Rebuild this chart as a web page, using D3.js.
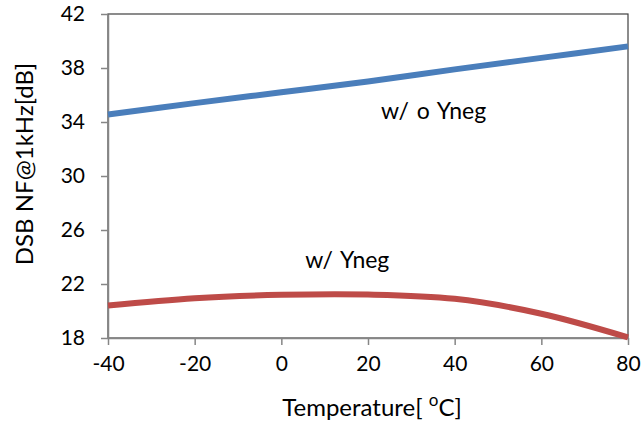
<!DOCTYPE html>
<html lang="en">
<head>
	<meta charset="utf-8">
	<title>DSB NF vs Temperature</title>
	<script src="https://cdn.jsdelivr.net/npm/d3@7"></script>
	<style>
	body { margin: 0; background: #fff; }
	text { font-family: Lato, "Open Sans", sans-serif; fill: #000; }
	.axis path, .axis line { stroke: #868686; stroke-width: 1.5px; }
	.axis text { font-size: 21px; }
	.frame { fill: none; stroke: #404040; stroke-width: 1.2px; }
	.line { fill: none; stroke-width: 6px; stroke-linecap: butt; }
	</style>
</head>
<body>
	<div id="chart"></div>
	<script>
		// values
		var temps = [-40, -20, 0, 20, 40, 60, 80];
		var withoutYneg = [34.55, 35.4, 36.2, 37.0, 37.9, 38.75, 39.6];
		var withYneg = [20.4, 20.95, 21.2, 21.22, 20.9, 19.8, 18.05];
		var xTicks = [-40, -20, 0, 20, 40, 60, 80];
		var yTicks = [18, 22, 26, 30, 34, 38, 42];

		var margin = {top: 14, right: 15, bottom: 90, left: 108},
		    width = 643 - margin.left - margin.right,
		    height = 428 - margin.top - margin.bottom;

		var svg = d3.select("#chart")
		    .append("svg")
		    .attr("width", 643)
		    .attr("height", 428);

		var x = d3.scaleLinear().domain([-40, 80]).range([0, width]),
		    y = d3.scaleLinear().domain([18, 42]).range([height, 0]);

		// plain hyphen for negatives, like the original
		var fmt = function(d) { return String(d); };

		var g = svg.append("g")
		    .attr("transform", "translate(" + margin.left + "," + margin.top + ")");

		g.append("rect")
		    .attr("class", "frame")
		    .attr("width", width)
		    .attr("height", height);

		g.append("g")
		    .attr("class", "axis axis--x")
		    .attr("transform", "translate(0," + height + ")")
		    .call(d3.axisBottom(x).tickValues(xTicks).tickFormat(fmt).tickSize(7).tickSizeOuter(0).tickPadding(8))
		    .call(function(s) { s.selectAll("text").attr("dy", "0.85em"); });

		g.append("g")
		    .attr("class", "axis axis--y")
		    .call(d3.axisLeft(y).tickValues(yTicks).tickFormat(fmt).tickSize(7).tickSizeOuter(0).tickPadding(16));

		var line = d3.line()
		    .curve(d3.curveCatmullRom.alpha(0.5))
		    .x(function(d) { return x(d[0]); })
		    .y(function(d) { return y(d[1]); });

		g.append("path")
		    .datum(d3.zip(temps, withYneg))
		    .attr("class", "line")
		    .attr("stroke", "#be4b48")
		    .attr("d", line);

		g.append("path")
		    .datum(d3.zip(temps, withoutYneg))
		    .attr("class", "line")
		    .attr("stroke", "#4a7ebb")
		    .attr("d", line);

		// series labels
		g.append("text")
		    .attr("x", x(23))
		    .attr("y", y(34.2))
		    .style("font-size", "23px")
		    .style("word-spacing", "2px")
		    .text("w/ o Yneg");

		g.append("text")
		    .attr("x", x(5.5))
		    .attr("y", y(23.2))
		    .style("font-size", "23px")
		    .style("word-spacing", "2px")
		    .text("w/ Yneg");

		// axis titles
		var xt = svg.append("text")
		    .attr("x", 372)
		    .attr("y", 416)
		    .attr("text-anchor", "middle")
		    .style("font-size", "24px");
		xt.append("tspan").text("Temperature[ ");
		xt.append("tspan").attr("dy", -10).style("font-size", "17px").text("o");
		xt.append("tspan").attr("dy", 10).text("C]");

		svg.append("text")
		    .attr("transform", "translate(33," + 164 + ") rotate(-90)")
		    .attr("text-anchor", "middle")
		    .style("font-size", "24px")
		    .text("DSB NF@1kHz[dB]");
	</script>
</body>
</html>
